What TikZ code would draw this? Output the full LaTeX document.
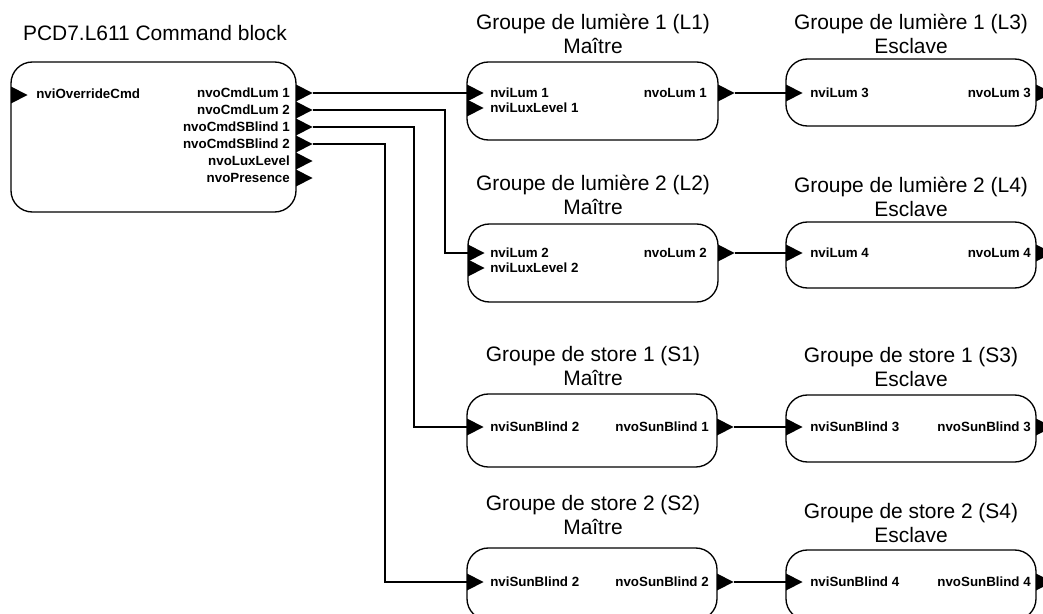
\documentclass[tikz,border=0pt]{standalone}
\usepackage{fontspec}
\setmainfont{Liberation Sans}
\usetikzlibrary{fit}

% port marker: filled triangle with its base on x=#1, pointing right
\newcommand\porttri[2]{\fill (#1,#2-8.5) -- (#1+16.5,#2) -- (#1,#2+8.5) -- cycle;}

\tikzset{
  blk/.style={draw, line width=1pt, rounded corners=16pt, inner sep=0pt, outer sep=0pt},
  ttl/.style={font=\fontsize{15.7}{18}\selectfont, align=center, inner sep=0pt},
  portlbl/.style={font=\fontsize{10}{12}\selectfont\bfseries, inner sep=0pt},
  wire/.style={line width=1pt},
}

\begin{document}
\begin{tikzpicture}[x=0.75pt, y=-0.75pt]
\useasboundingbox (0,0) rectangle (1043,614);
\clip (0,0) rectangle (1043,614);

% ---------- command block ----------
\node[ttl] (cbt) at (155,33) {PCD7.L611 Command block};
\node[blk, fit={(11,62) (296,212)}] (cb) {};
\porttri{11}{95}
\node[portlbl, anchor=west] (cbi) at (36,94) {nviOverrideCmd};
\foreach \yy/\txt/\nm in {93/nvoCmdLum 1/1, 110/nvoCmdLum 2/2, 127/nvoCmdSBlind 1/3,
                          144/nvoCmdSBlind 2/4, 161/nvoLuxLevel/5, 178/nvoPresence/6}{
  \porttri{296}{\yy}
  \node[portlbl, anchor=east] (cbl\nm) at (290,\yy) {\txt};
  \coordinate (cbo\nm) at (312.5,\yy);
}

% ---------- light group 1 ----------
\node[ttl] (l1t) at (593,34) {Groupe de lumière 1 (L1)\\Maître};
\node[blk, fit={(467,62) (718,140)}] (L1) {};
\porttri{467}{93}\porttri{467}{108}\porttri{718}{93}
\node[portlbl, anchor=west] (l1a) at (490,93) {nviLum 1};
\node[portlbl, anchor=west] (l1b) at (490,108) {nviLuxLevel 1};
\node[portlbl, anchor=east] (l1c) at (707,93) {nvoLum 1};
\coordinate (l1i) at (467,93);
\coordinate (l1o) at (734.5,93);

\node[ttl] (l3t) at (911,33.5) {Groupe de lumière 1 (L3)\\Esclave};
\node[blk, fit={(786,59) (1036,126)}] (L3) {};
\porttri{786}{93}\porttri{1036}{93}
\node[portlbl, anchor=west] (l3a) at (810,93) {nviLum 3};
\node[portlbl, anchor=east] (l3c) at (1031,93) {nvoLum 3};
\coordinate (l3i) at (786,93);

% ---------- light group 2 ----------
\node[ttl] (l2t) at (593,195) {Groupe de lumière 2 (L2)\\Maître};
\node[blk, fit={(468,224) (718,302)}] (L2) {};
\porttri{468}{253}\porttri{468}{268}\porttri{718}{253}
\node[portlbl, anchor=west] (l2a) at (490,253) {nviLum 2};
\node[portlbl, anchor=west] (l2b) at (490,268) {nviLuxLevel 2};
\node[portlbl, anchor=east] (l2c) at (707,253) {nvoLum 2};
\coordinate (l2i) at (468,253);
\coordinate (l2o) at (734.5,253);

\node[ttl] (l4t) at (911,196.5) {Groupe de lumière 2 (L4)\\Esclave};
\node[blk, fit={(786,222) (1036,288)}] (L4) {};
\porttri{786}{253}\porttri{1036}{253}
\node[portlbl, anchor=west] (l4a) at (810,253) {nviLum 4};
\node[portlbl, anchor=east] (l4c) at (1031,253) {nvoLum 4};
\coordinate (l4i) at (786,253);

% ---------- blind group 1 ----------
\node[ttl] (s1t) at (593,366) {Groupe de store 1 (S1)\\Maître};
\node[blk, fit={(467,394) (717,467)}] (S1) {};
\porttri{467}{427}\porttri{717}{427}
\node[portlbl, anchor=west] (s1a) at (490,427) {nviSunBlind 2};
\node[portlbl, anchor=east] (s1c) at (709,427) {nvoSunBlind 1};
\coordinate (s1i) at (467,427);
\coordinate (s1o) at (733.5,427);

\node[ttl] (s3t) at (911,367) {Groupe de store 1 (S3)\\Esclave};
\node[blk, fit={(786,395) (1036,462)}] (S3) {};
\porttri{786}{427}\porttri{1036}{427}
\node[portlbl, anchor=west] (s3a) at (810,427) {nviSunBlind 3};
\node[portlbl, anchor=east] (s3c) at (1031,427) {nvoSunBlind 3};
\coordinate (s3i) at (786,427);

% ---------- blind group 2 ----------
\node[ttl] (s2t) at (593,515) {Groupe de store 2 (S2)\\Maître};
\node[blk, fit={(467,548) (717,620)}] (S2) {};
\porttri{467}{582}\porttri{717}{582}
\node[portlbl, anchor=west] (s2a) at (490,582) {nviSunBlind 2};
\node[portlbl, anchor=east] (s2c) at (709,582) {nvoSunBlind 2};
\coordinate (s2i) at (467,582);
\coordinate (s2o) at (733.5,582);

\node[ttl] (s4t) at (911,523.5) {Groupe de store 2 (S4)\\Esclave};
\node[blk, fit={(786,550) (1036,620)}] (S4) {};
\porttri{786}{582}\porttri{1036}{582}
\node[portlbl, anchor=west] (s4a) at (810,582) {nviSunBlind 4};
\node[portlbl, anchor=east] (s4c) at (1031,582) {nvoSunBlind 4};
\coordinate (s4i) at (786,582);

% ---------- wiring ----------
\draw[wire] (cbo1) -- (l1i);
\draw[wire] (cbo2) -- ++(132.5,0) |- (l2i);
\draw[wire] (cbo3) -- ++(101.5,0) |- (s1i);
\draw[wire] (cbo4) -- ++(72.5,0) |- (s2i);
\draw[wire] (l1o) -- (l3i);
\draw[wire] (l2o) -- (l4i);
\draw[wire] (s1o) -- (s3i);
\draw[wire] (s2o) -- (s4i);
\end{tikzpicture}
\end{document}
